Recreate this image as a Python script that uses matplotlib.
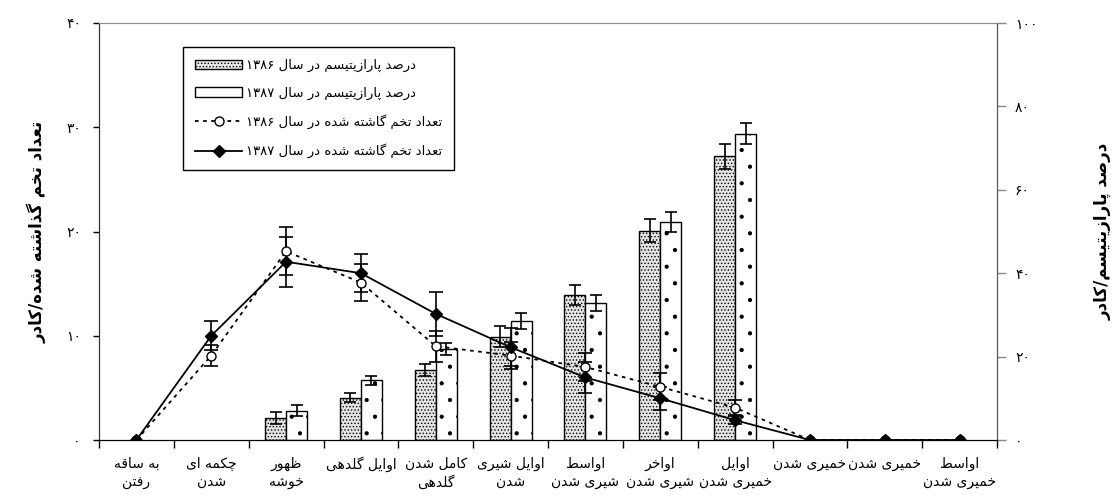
import re
import numpy as np
import matplotlib
matplotlib.use('Agg')
import matplotlib.pyplot as plt

# stages of wheat growth (x axis)
stages = ['به ساقه\nرفتن', 'چکمه ای\nشدن', 'ظهور\nخوشه', 'اوایل گلدهی', 'کامل شدن\nگلدهی',
          'اوایل شیری\nشدن', 'اواسط\nشیری شدن', 'اواخر\nشیری شدن', 'اوایل\nخمیری شدن',
          'خمیری شدن', 'خمیری شدن', 'اواسط\nخمیری شدن']

# parasitism percent (right axis)
paras_86 = [np.nan, np.nan, 5.3, 10.1, 16.8, 24.8, 34.7, 50.2, 68.0, np.nan, np.nan, np.nan]
paras_86_err = [0, 0, 1.4, 1.1, 1.4, 2.5, 2.4, 2.7, 2.9, 0, 0, 0]
paras_87 = [np.nan, np.nan, 7.0, 14.3, 21.8, 28.6, 32.9, 52.2, 73.5, np.nan, np.nan, np.nan]
paras_87_err = [0, 0, 1.3, 1.0, 1.5, 1.9, 1.9, 2.4, 2.4, 0, 0, 0]

# eggs laid per frame (left axis)
eggs_86 = [0, 8.1, 18.1, 15.1, 9.0, 8.1, 7.0, 5.1, 3.1, 0, 0, 0]
eggs_86_err = [0, 1.0, 2.3, 1.8, 1.5, 1.3, 1.3, 1.3, 0.7, 0, 0, 0]
eggs_87 = [0, 10.0, 17.1, 16.0, 12.1, 8.9, 6.0, 4.0, 1.9, 0, 0, 0]
eggs_87_err = [0, 1.4, 2.4, 1.8, 2.1, 1.8, 1.45, 1.1, 0.4, 0, 0, 0]

left_ticks = [0, 10, 20, 30, 40]
right_ticks = [0, 20, 40, 60, 80, 100]

lbl_p86 = 'درصد پارازیتیسم در سال ۱۳۸۶'
lbl_p87 = 'درصد پارازیتیسم در سال ۱۳۸۷'
lbl_e86 = 'تعداد تخم گاشته شده در سال ۱۳۸۶'
lbl_e87 = 'تعداد تخم گاشته شده در سال ۱۳۸۷'
ylab_left = 'تعداد تخم گذاشته شده/کادر'
ylab_right = 'درصد پارازیتیسم/کادر'


# --- minimal persian shaping + rtl ordering (matplotlib does neither)
PF = {'ا': 0xFE8D, 'آ': 0xFE81, 'ب': 0xFE8F, 'ت': 0xFE95, 'ث': 0xFE99, 'ج': 0xFE9D,
      'ح': 0xFEA1, 'خ': 0xFEA5, 'د': 0xFEA9, 'ذ': 0xFEAB, 'ر': 0xFEAD, 'ز': 0xFEAF,
      'س': 0xFEB1, 'ش': 0xFEB5, 'ص': 0xFEB9, 'ض': 0xFEBD, 'ط': 0xFEC1, 'ظ': 0xFEC5,
      'ع': 0xFEC9, 'غ': 0xFECD, 'ف': 0xFED1, 'ق': 0xFED5, 'ل': 0xFEDD, 'م': 0xFEE1,
      'ن': 0xFEE5, 'ه': 0xFEE9, 'و': 0xFEED, 'پ': 0xFB56, 'چ': 0xFB7A, 'ژ': 0xFB8A,
      'ک': 0xFB8E, 'گ': 0xFB92, 'ی': 0xFBFC}
RIGHT_ONLY = set('اآدذرزژو')


def shape(s):
    out = []
    for i, ch in enumerate(s):
        if ch not in PF:
            out.append(ch)
            continue
        prev = s[i - 1] if i > 0 else ''
        nxt = s[i + 1] if i + 1 < len(s) else ''
        jp = prev in PF and prev not in RIGHT_ONLY
        jn = ch not in RIGHT_ONLY and nxt in PF
        b = PF[ch]
        if jp and jn:
            out.append(chr(b + 3))
        elif jn:
            out.append(chr(b + 2))
        elif jp:
            out.append(chr(b + 1))
        else:
            out.append(chr(b))
    return ''.join(out)


def fa(text):
    lines = []
    for line in text.split('\n'):
        runs = re.findall(r'[0-9\u06F0-\u06F9]+|[^0-9\u06F0-\u06F9]+', shape(line))
        lines.append(''.join(r if r[0].isdigit() else r[::-1] for r in reversed(runs)))
    return '\n'.join(lines)


def fa_num(v):
    return str(v).translate(str.maketrans('0123456789', '۰۱۲۳۴۵۶۷۸۹'))


plt.rcParams['font.family'] = ['DejaVu Sans']
plt.rcParams['hatch.linewidth'] = 0.6

x = np.arange(len(stages))
w = 0.28

fig = plt.figure(figsize=(11.19, 5.03), dpi=100)
ax = fig.add_axes([99 / 1119, 63 / 503, 898 / 1119, 417 / 503])
ax2 = ax.twinx()

# bars -> right axis
b86 = ax2.bar(x - w / 2, paras_86, w, color='#e4e4e4', edgecolor='black', lw=1, hatch='.....',
              label=fa(lbl_p86))
b87 = ax2.bar(x + w / 2, paras_87, w, color='white', edgecolor='black', lw=1, hatch='.',
              label=fa(lbl_p87))
ax2.errorbar(x - w / 2, paras_86, yerr=paras_86_err, fmt='none', ecolor='black',
             elinewidth=1.2, capsize=4.5, capthick=1.2)
ax2.errorbar(x + w / 2, paras_87, yerr=paras_87_err, fmt='none', ecolor='black',
             elinewidth=1.2, capsize=4.5, capthick=1.2)

# lines -> left axis
e86 = np.array(eggs_86)
e87 = np.array(eggs_87)
m86 = np.array(eggs_86_err) > 0
m87 = np.array(eggs_87_err) > 0
ax.errorbar(x[m86], e86[m86], yerr=np.array(eggs_86_err)[m86], fmt='none', ecolor='black',
            elinewidth=1.2, capsize=5, capthick=1.2)
ax.errorbar(x[m87], e87[m87], yerr=np.array(eggs_87_err)[m87], fmt='none', ecolor='black',
            elinewidth=1.2, capsize=5, capthick=1.2)
l86, = ax.plot(x, e86, color='black', lw=1.3, ls=(0, (2, 2.5)), marker='o', ms=6.5,
               mfc='white', mec='black', mew=1, label=fa(lbl_e86))
l87, = ax.plot(x, e87, color='black', lw=1.3, marker='D', ms=6, mfc='black', mec='black',
               label=fa(lbl_e87))

ax.set_zorder(ax2.get_zorder() + 1)
ax.patch.set_visible(False)

ax.set_xlim(-0.5, len(stages) - 0.5)
ax.set_ylim(0, 40)
ax2.set_ylim(0, 100)

ax.set_xticks(x)
ax.set_xticklabels([fa(s) for s in stages], fontsize=10, linespacing=1.35)
ax.set_xticks(np.arange(len(stages) + 1) - 0.5, minor=True)
ax.tick_params(axis='x', which='major', length=0, pad=12)
ax.tick_params(axis='x', which='minor', length=6, direction='out', width=1)

ax.set_yticks(left_ticks)
ax.set_yticklabels([fa_num(v) for v in left_ticks], fontsize=10)
ax.tick_params(axis='y', length=4, width=1, pad=9)
ax2.set_yticks(right_ticks)
ax2.set_yticklabels([fa_num(v) for v in right_ticks], fontsize=10)
ax2.tick_params(axis='y', length=6.5, width=1, color='#888888', pad=6.5)

for a in (ax, ax2):
    a.spines['top'].set_color('#909090')
    a.spines['left'].set_color('#333333')
    a.spines['bottom'].set_color('black')
    a.spines['right'].set_color('#555555')

ax.set_ylabel(fa(ylab_left), fontsize=12, fontweight='bold')
ax.yaxis.set_label_coords(-0.058, 0.5)
ax2.set_ylabel(fa(ylab_right), fontsize=12, fontweight='bold')
ax2.yaxis.set_label_coords(1.108, 0.5)

leg = ax.legend([b86, b87, l86, l87], [fa(lbl_p86), fa(lbl_p87), fa(lbl_e86), fa(lbl_e87)],
                loc='upper left', bbox_to_anchor=(0.0935, 0.9424), borderaxespad=0,
                fontsize=9.5, handlelength=3.6, handletextpad=0.3, labelspacing=1.1,
                fancybox=False, edgecolor='black', framealpha=1, borderpad=0.9)
leg.get_frame().set_linewidth(1)

fig.savefig('out.png', dpi=100)
